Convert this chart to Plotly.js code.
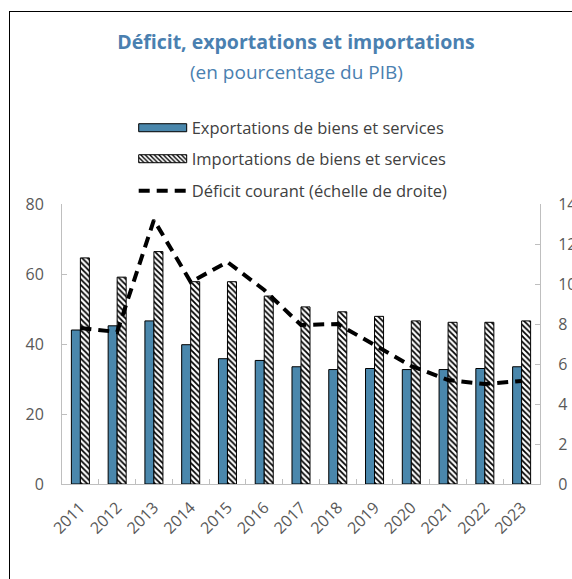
<!DOCTYPE html>
<html>
<head>
<meta charset="utf-8">
<script src="https://cdn.plot.ly/plotly-3.0.1.min.js"></script>
<style>
  body { margin: 0; background: #fff; overflow: hidden; }
  #frame { position: absolute; left: 9px; top: 11px; width: 700px; height: 700px; border: 1px solid #000; box-sizing: border-box; pointer-events: none; }
  #chart { position: absolute; left: 0; top: 0; width: 572px; height: 579px; }
</style>
</head>
<body>
<div id="chart"></div>
<div id="frame"></div>
<script>
const years = ['2011', '2012', '2013', '2014', '2015', '2016', '2017', '2018', '2019', '2020', '2021', '2022', '2023'];
const exportations = [44.0, 45.2, 46.6, 39.8, 35.8, 35.3, 33.5, 32.7, 33.0, 32.7, 32.7, 33.0, 33.5];
const importations = [64.6, 59.1, 66.4, 57.8, 57.8, 53.7, 50.6, 49.2, 47.9, 46.6, 46.2, 46.2, 46.6];
const deficitCourant = [7.8, 7.6, 13.2, 10.1, 11.1, 9.7, 7.95, 8.0, 6.95, 5.9, 5.2, 5.0, 5.15];

const titleBlue = '#4a80b0';
const tickGray = '#595959';
const axisGray = '#bfbfbf';
const fontFamily = '"Open Sans", "Noto Sans", sans-serif';

const traces = [
  {
    x: years,
    y: exportations,
    type: 'bar',
    name: 'Exportations de biens et services',
    marker: { color: '#4a87ac', line: { color: '#000', width: 1 } },
    legend: 'legend'
  },
  {
    x: years,
    y: importations,
    type: 'bar',
    name: 'Importations de biens et services',
    marker: {
      color: '#fff',
      line: { color: '#000', width: 1 },
      pattern: { shape: '\\', fgcolor: '#000', bgcolor: '#fff', size: 4, solidity: 0.45 }
    },
    legend: 'legend2'
  },
  {
    x: years,
    y: deficitCourant,
    type: 'scatter',
    mode: 'lines',
    name: 'Déficit courant (échelle de droite)',
    line: { color: '#000', width: 4, dash: '11px,7px' },
    yaxis: 'y2',
    legend: 'legend3'
  }
];

// trois légendes séparées pour l'espacement vertical
const legendBase = {
  x: 0.15,
  xanchor: 'left',
  yanchor: 'middle',
  bgcolor: 'rgba(0,0,0,0)',
  font: { family: fontFamily, size: 16.5, color: '#404040' },
  itemwidth: 48
};

const tickFont = { family: fontFamily, size: 16, color: tickGray };

const layout = {
  width: 572,
  height: 579,
  margin: { l: 62, r: 32, t: 204, b: 95 },
  paper_bgcolor: '#fff',
  plot_bgcolor: '#fff',
  font: { family: fontFamily, color: tickGray },
  title: {
    text: '<b>Déficit, exportations et importations</b>',
    font: { family: fontFamily, size: 19.5, color: titleBlue },
    x: 296 / 572,
    xanchor: 'center',
    y: 1 - 42 / 579,
    yanchor: 'middle'
  },
  annotations: [{
    text: '(en pourcentage du PIB)',
    xref: 'paper',
    yref: 'paper',
    x: (296 - 62) / 478,
    y: (484 - 72) / 280,
    xanchor: 'center',
    yanchor: 'middle',
    showarrow: false,
    font: { family: fontFamily, size: 19, color: titleBlue }
  }],
  barmode: 'group',
  bargap: 0.51,
  bargroupgap: 0,
  showlegend: true,
  legend: Object.assign({}, legendBase, { y: (484 - 128) / 280 }),
  legend2: Object.assign({}, legendBase, { y: (484 - 159) / 280 }),
  legend3: Object.assign({}, legendBase, { y: (484 - 191) / 280 }),
  xaxis: {
    type: 'category',
    tickangle: -45,
    tickfont: tickFont,
    showline: true,
    linecolor: axisGray,
    linewidth: 1,
    ticks: 'inside',
    tickson: 'boundaries',
    ticklen: 5,
    tickcolor: axisGray,
    showgrid: false,
    ticklabelstandoff: 7
  },
  yaxis: {
    range: [0, 80],
    dtick: 20,
    tickfont: tickFont,
    showline: true,
    linecolor: axisGray,
    ticks: 'inside',
    ticklen: 5,
    tickcolor: axisGray,
    showgrid: false,
    zeroline: false,
    ticklabelstandoff: 14
  },
  yaxis2: {
    range: [0, 14],
    dtick: 2,
    overlaying: 'y',
    side: 'right',
    tickfont: tickFont,
    showline: true,
    linecolor: axisGray,
    ticks: 'inside',
    ticklen: 5,
    tickcolor: axisGray,
    showgrid: false,
    zeroline: false,
    ticklabelstandoff: 14
  }
};

Plotly.newPlot('chart', traces, layout, { displayModeBar: false, responsive: false }).then(gd => {
  // symboles de légende des barres plus larges, comme dans l'original
  gd.querySelectorAll('.legendpoints path').forEach(p => {
    const d = (p.getAttribute('d') || '').replace(/\s/g, '');
    if (d === 'M6,6H-6V-6H6Z') {
      p.setAttribute('d', 'M-24,4H24V-4H-24Z');
    }
  });
});
</script>
</body>
</html>
